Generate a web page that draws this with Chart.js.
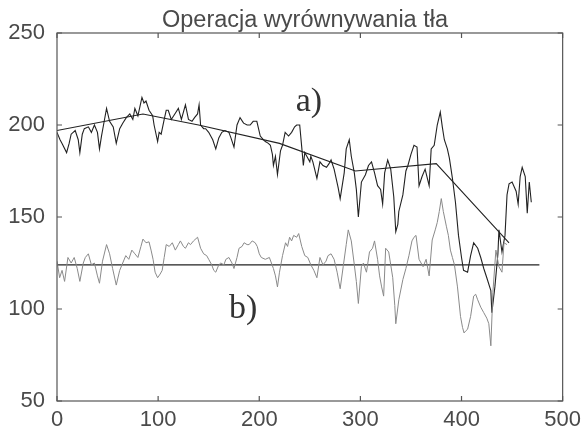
<!DOCTYPE html>
<html>
<head>
<meta charset="utf-8">
<script src="https://cdn.jsdelivr.net/npm/chart.js@4/dist/chart.umd.min.js"></script>
<style>
  html, body { margin: 0; padding: 0; background: #fff; }
  #wrap { width: 587px; height: 432px; position: relative; }
</style>
</head>
<body>
<div id="wrap"><canvas id="chart" width="587" height="432"></canvas></div>
<script>
// sygnal a) - przed wyrownaniem
var aX = [0,3,5,9.5,12,14,18,21,22.6,25,27,31,34,37,40,42,44,46,49,52,55.6,58.6,62,65,68.5,72,75,77,80,84,86,88,91,94.6,96,99.5,101,103,106,108,110,113,116.5,120,123,127,130,133.5,136,139,140.5,142,145,147,150,152,154,157,160,163,166,170,172,175,178,181,184.5,188,191,194,197.6,201,204,206,209,211,213,214,216,218,221,223,225.6,229,232,235,237,240,242,243.6,245,247,250,251,253,257,260,263,266.5,269,271,274,278,280,284,286,289,291,294,296,298,301,305,308,311,314,317,320,322,324,327,330,333,335,337,338,342,345,347,350,353,356,358,361,364,368,370,373,376,379,381,383,386,388,391,394,397,400,402,406,409,412,416,419,422,425,429,430,433,436,437,440,443,445,447,450,454,456,458,460,463,465,467,469];
var aY = [196,192,190,185,190,195,197,192,185,195,198,199,196,200,196,187,194,200,209,202,199,190,198,201,204,206,203,209,205,215,212,213,208,205,200,191,196,195,203,208,208,203,206,209,203,211,203,202,204,206,211,200,198,198,196,194,192,187,193,196,197,196,193,188,200,204,201,200,200,202,202,194,192,191,190,189,184,178,183,173,186,189,196,194,196,199,200,200,188,178,185,183,180,183,180,171,180,178,177,179,181,176,166,160,174,187,192,183,174,165,150,169,173,178,180,174,167,165,157,174,181,176,161,142,146,153,162,175,178,184,189,188,167,172,176,167,187,189,200,207,199,192,187,182,171,158,140,128,121,120,129,136,133,128,122,117,110,98,112,130,143,131,140,162,168,169,164,157,172,177,172,152,169,158];

// sygnal b) - po wyrownaniu
var bX = [0,2.6,5,7.5,10.8,14,17,20,22.6,26,28,31,34,37,40,42,45,49,52,55,58.6,62,65,68,71,74,77,80,83,85,88,91,93,95,97,99.5,102,104,106,108,111,114,117,120,122,125,127,130,132,135,139,142,145,148,150,153,155,157,160,162,165,167,170,173,175,178,180,183,185,188,190,193,196,198,200,202,206,210,212,214,216,218,220,223,226,228,230,232,234,237,239,242,245,248,251,254,257,260,263,266,268,271,274,277,280,283,286,288,291,294,296,298,301,303,306,309,312,314,317,319,321,323,325,328,330,332,334,335,338,342,345,348,351,353,355,358,362,365,368,371,374,376,378,380,382,385,387,389,391,393,396,399,401,402.5,404,406,409,412,414,416,419,422,425,427,429,431,434,437,440,442,445];
var bY = [126,117,121,115,128,125,128,122,115,125,128,130,124,125,118,114,126,135,130,122,113,121,125,129,127,132,130,128,134,138,136,136.5,132,127,120,117,119,121,128,135,134,136,132,135,137,134,133,136,135,137,139,133,130,129,127,124,121,120,124,125,124,127,128,125,122,128,133,134,136,135,135,137,136,134,130,128,127,128,125,122,118,112,120,129,136,134,139,137,140,139,141,134,129,128,124,121,117,128,124,126,129,130,127,120,111,123,135,143,137,124,115,103,123,125,120,131,133,137,127,118,112,107,133,131,124,117,102,92,105,116,122,129,137,139,140,127,123,127,118,137.5,143,147,153,160,153,145,140,132,128,124,112,96,90,87,88,89,96,107,108,105,101,98,95,92,80,109,132,123,120,136,135];

// tlo (linia trendu) dla a) i poziom dla b)
var trendX = [0,85,140,220,295,375,447];
var trendY = [197,206,200,190,175,179,136];
var levelX = [0,477];
var levelY = [124,124];

var xTicks = [0,100,200,300,400,500];
var yTicks = [50,100,150,200,250];

var notes = [
  {text: 'a)', x: 236, y: 207.5},
  {text: 'b)', x: 170, y: 95}
];

function pts(xs, ys) {
  return xs.map(function(v, i) { return {x: v, y: ys[i]}; });
}

var frame = {
  id: 'frame',
  afterDraw: function(chart) {
    var c = chart.ctx, a = chart.chartArea;
    var xs = chart.scales.x, ys = chart.scales.y;
    c.save();
    c.strokeStyle = '#555';
    c.lineWidth = 1.2;
    c.strokeRect(a.left, a.top, a.right - a.left, a.bottom - a.top);
    // male znaczniki do srodka
    c.beginPath();
    xTicks.forEach(function(t) {
      var p = xs.getPixelForValue(t);
      c.moveTo(p, a.bottom); c.lineTo(p, a.bottom - 5);
      c.moveTo(p, a.top); c.lineTo(p, a.top + 5);
    });
    yTicks.forEach(function(t) {
      var p = ys.getPixelForValue(t);
      c.moveTo(a.left, p); c.lineTo(a.left + 5, p);
      c.moveTo(a.right, p); c.lineTo(a.right - 5, p);
    });
    c.stroke();
    // tytul
    c.fillStyle = '#4a4a4a';
    c.font = '23.5px "Liberation Sans", Arial, sans-serif';
    c.textAlign = 'center';
    c.textBaseline = 'alphabetic';
    c.fillText('Operacja wyrównywania tła', 305, 27);
    // opisy a) b)
    c.fillStyle = '#333';
    c.font = '34px "Liberation Serif", "Times New Roman", serif';
    c.textAlign = 'left';
    notes.forEach(function(n) {
      c.fillText(n.text, xs.getPixelForValue(n.x), ys.getPixelForValue(n.y));
    });
    c.restore();
  }
};

var ctx = document.getElementById('chart');
var chart = new Chart(ctx, {
  type: 'line',
  data: {
    datasets: [{
      label: 'b)',
      data: pts(bX, bY),
      borderColor: '#8a8a8a',
      borderWidth: 1,
      pointRadius: 0
    }, {
      label: 'a)',
      data: pts(aX, aY),
      borderColor: '#222',
      borderWidth: 1.1,
      pointRadius: 0
    }, {
      label: 'tlo a)',
      data: pts(trendX, trendY),
      borderColor: '#222',
      borderWidth: 1.1,
      pointRadius: 0
    }, {
      label: 'poziom b)',
      data: pts(levelX, levelY),
      borderColor: '#222',
      borderWidth: 1.1,
      pointRadius: 0
    }]
  },
  options: {
    responsive: false,
    animation: false,
    layout: { padding: { left: 0, top: 33, right: 21, bottom: 0 } },
    plugins: { legend: { display: false }, tooltip: { enabled: false }, title: { display: false } },
    scales: {
      x: {
        type: 'linear', min: 0, max: 500,
        afterBuildTicks: function(s) { s.ticks = xTicks.map(function(v) { return {value: v}; }); },
        afterFit: function(s) { s.height = 31; },
        grid: { display: false, drawTicks: false },
        border: { display: false },
        ticks: { color: '#4a4a4a', padding: 6, maxRotation: 0, font: { size: 22, family: '"Liberation Sans", Arial, sans-serif' } }
      },
      y: {
        min: 50, max: 250,
        afterBuildTicks: function(s) { s.ticks = yTicks.map(function(v) { return {value: v}; }); },
        afterFit: function(s) { s.width = 57; },
        grid: { display: false, drawTicks: false },
        border: { display: false },
        ticks: { color: '#4a4a4a', padding: 12, font: { size: 22, family: '"Liberation Sans", Arial, sans-serif' } }
      }
    }
  },
  plugins: [frame]
});
</script>
</body>
</html>
